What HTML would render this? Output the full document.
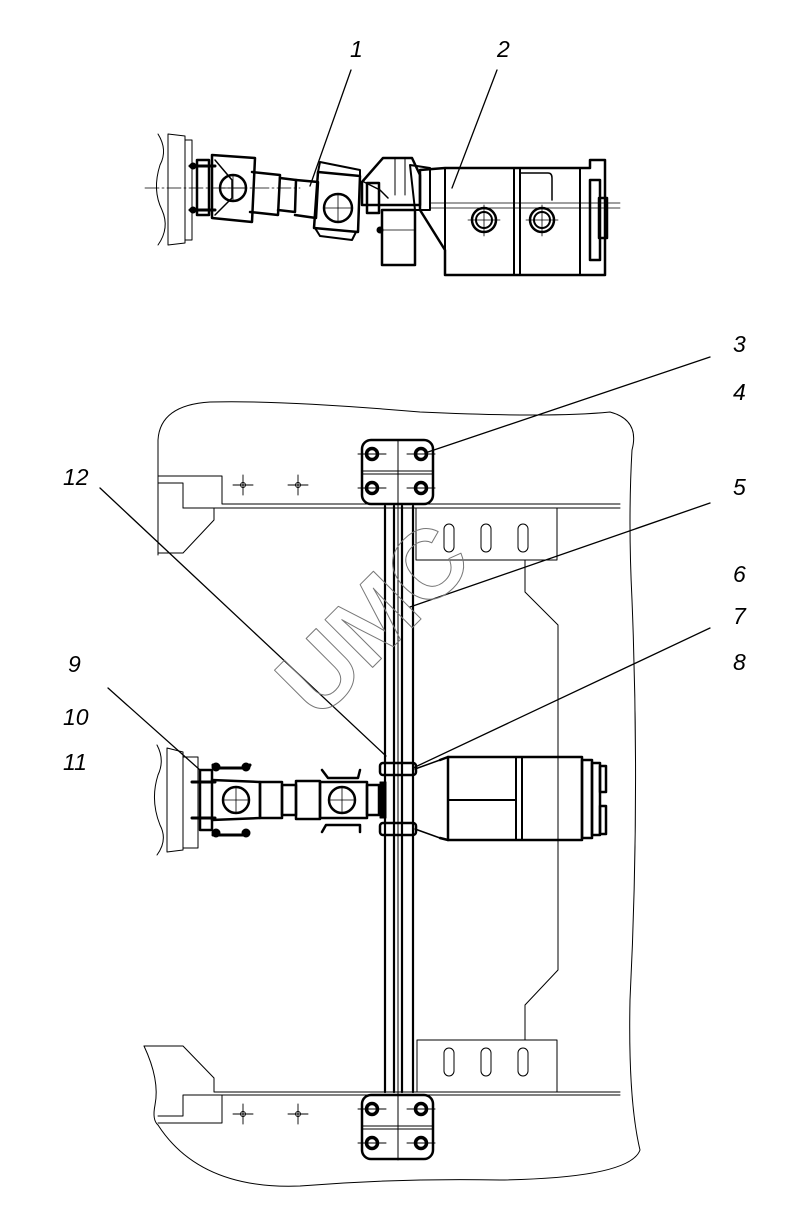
<!DOCTYPE html>
<html><head><meta charset="utf-8"><style>
html,body{margin:0;padding:0;background:#fff;}
svg{display:block;}
text.l{font-family:"Liberation Sans",sans-serif;font-style:italic;font-size:23px;fill:#000;}
</style></head><body>
<svg width="791" height="1229" viewBox="0 0 791 1229" xmlns="http://www.w3.org/2000/svg">
<g fill="none" stroke="#000" stroke-linecap="round" stroke-linejoin="round">

<!-- ===== TOP VIEW ===== -->
<path d="M158,134 Q168,150 160,165 Q152,190 162,210 Q170,228 158,245" stroke-width="1"/>
<path d="M168,134 L168,245 M168,134 L185,136 L185,243 L168,245" stroke-width="1"/>
<path d="M185,140 L192,140 L192,240 L185,240" stroke-width="1"/>
<line x1="145" y1="188" x2="300" y2="188" stroke-width="0.8" stroke-dasharray="14,3,2,3"/>
<rect x="197" y="160" width="12" height="55" stroke-width="2.5"/>
<circle cx="193" cy="166" r="3" fill="#000"/><circle cx="193" cy="210" r="3" fill="#000"/>
<line x1="190" y1="166" x2="215" y2="166" stroke-width="3"/>
<line x1="190" y1="210" x2="215" y2="210" stroke-width="3"/>
<path d="M212,155 L255,158 L252,222 L212,218 Z" stroke-width="2.5"/>
<path d="M215,160 L232,180 L232,198 L215,215" stroke-width="1.5"/>
<circle cx="233" cy="188" r="13" stroke-width="2.5"/>
<line x1="220" y1="188" x2="246" y2="188" stroke-width="0.8"/><line x1="233" y1="175" x2="233" y2="201" stroke-width="0.8"/>
<path d="M252,172 L280,175 L278,215 L250,212" stroke-width="2.5"/>
<path d="M280,178 L296,180 L295,212 L278,210" stroke-width="2.5"/>
<path d="M296,180 L318,182 L316,218 L295,215" stroke-width="2.5"/>
<path d="M318,172 L360,176 L358,232 L314,228 Z" stroke-width="2.5"/>
<path d="M318,172 L320,162 L360,170 L360,176" stroke-width="2"/>
<path d="M315,228 L320,236 L352,240 L356,232" stroke-width="2"/>
<circle cx="338" cy="208" r="14" stroke-width="2.5"/>
<line x1="324" y1="208" x2="352" y2="208" stroke-width="0.8"/><line x1="338" y1="194" x2="338" y2="222" stroke-width="0.8"/>
<path d="M362,182 L383,158 L412,158 L420,175 L420,205 L362,205 Z" stroke-width="2.5"/>
<line x1="395" y1="158" x2="395" y2="195" stroke-width="1"/><line x1="405" y1="158" x2="405" y2="195" stroke-width="1"/>
<path d="M364,182 L380,190 L388,198" stroke-width="1.5"/>
<rect x="367" y="183" width="12" height="30" stroke-width="2.5"/>
<rect x="382" y="210" width="33" height="55" stroke-width="2.5"/>
<line x1="380" y1="230" x2="414" y2="230" stroke-width="0.8"/>
<circle cx="380" cy="230" r="3" fill="#000"/>
<path d="M420,170 L420,210 L445,250 L445,275 L605,275 L605,160 L590,160 L590,168 L445,168 Z" stroke-width="2.5"/>
<path d="M410,165 L430,168 L430,210 L415,210 Z" stroke-width="2"/>
<rect x="514" y="168" width="6" height="107" stroke-width="2"/>
<line x1="445" y1="168" x2="445" y2="275" stroke-width="2"/>
<path d="M520,173 L548,173 Q552,173 552,178 L552,200" stroke-width="1.5"/>
<line x1="580" y1="168" x2="580" y2="275" stroke-width="2"/>
<rect x="590" y="180" width="10" height="80" stroke-width="2.5"/>
<rect x="599" y="198" width="8" height="40" stroke-width="2.5"/>
<line x1="430" y1="203" x2="620" y2="203" stroke-width="0.8"/>
<line x1="430" y1="208" x2="620" y2="208" stroke-width="0.8"/>
<circle cx="484" cy="220" r="12" stroke-width="2.5"/><circle cx="484" cy="220" r="8" stroke-width="2"/>
<circle cx="542" cy="220" r="12" stroke-width="2.5"/><circle cx="542" cy="220" r="8" stroke-width="2"/>
<line x1="468" y1="220" x2="500" y2="220" stroke-width="0.8"/><line x1="484" y1="205" x2="484" y2="236" stroke-width="0.8"/>
<line x1="526" y1="220" x2="558" y2="220" stroke-width="0.8"/><line x1="542" y1="205" x2="542" y2="236" stroke-width="0.8"/>

<line x1="351" y1="70" x2="310" y2="186" stroke-width="1.3"/>
<line x1="497" y1="70" x2="452" y2="188" stroke-width="1.3"/>

<!-- ===== FRAME ===== -->
<path d="M158,555 L158,440 Q160,405 210,402 Q280,400 420,412 Q550,418 610,412 Q640,420 632,450 Q628,520 632,600 Q640,800 630,1000 Q628,1100 640,1150 Q630,1178 500,1180 Q400,1178 300,1186 Q200,1190 158,1125" stroke-width="1"/>
<path d="M144,1046 Q160,1080 155,1105 Q152,1120 158,1125" stroke-width="1"/>
<path d="M158,483 L183,483 L183,508 L214,508 L214,520 L183,553 L158,553" stroke-width="1"/>
<path d="M158,476 L222,476 L222,504 L620,504" stroke-width="1"/>
<line x1="183" y1="508" x2="620" y2="508" stroke-width="1"/>
<g stroke-width="0.9"><line x1="233" y1="485" x2="253" y2="485"/><line x1="243" y1="475" x2="243" y2="495"/><circle cx="243" cy="485" r="2.5"/>
<line x1="288" y1="485" x2="308" y2="485"/><line x1="298" y1="475" x2="298" y2="495"/><circle cx="298" cy="485" r="2.5"/>
<line x1="233" y1="1114" x2="253" y2="1114"/><line x1="243" y1="1104" x2="243" y2="1124"/><circle cx="243" cy="1114" r="2.5"/>
<line x1="288" y1="1114" x2="308" y2="1114"/><line x1="298" y1="1104" x2="298" y2="1124"/><circle cx="298" cy="1114" r="2.5"/></g>
<path d="M144,1046 L183,1046 L214,1078 L214,1092 L620,1092" stroke-width="1"/>
<path d="M158,1116 L183,1116 L183,1095 L620,1095" stroke-width="1"/>
<path d="M158,1123 L222,1123 L222,1095" stroke-width="1"/>
<rect x="416" y="508" width="141" height="52" stroke-width="1"/>
<rect x="417" y="1040" width="140" height="52" stroke-width="1"/>
<g stroke-width="1"><rect x="444" y="524" width="10" height="28" rx="5"/><rect x="481" y="524" width="10" height="28" rx="5"/><rect x="518" y="524" width="10" height="28" rx="5"/>
<rect x="444" y="1048" width="10" height="28" rx="5"/><rect x="481" y="1048" width="10" height="28" rx="5"/><rect x="518" y="1048" width="10" height="28" rx="5"/></g>
<path d="M525,560 L525,592 L558,625 L558,970 L525,1005 L525,1040" stroke-width="1"/>

<g stroke-width="2.2"><line x1="385" y1="506" x2="385" y2="1092"/><line x1="394" y1="506" x2="394" y2="1092"/>
<line x1="402" y1="506" x2="402" y2="1092"/><line x1="413" y1="506" x2="413" y2="1092"/></g>
<line x1="398" y1="440" x2="398" y2="1160" stroke-width="1"/>
<g stroke-width="2.5">
<rect x="362" y="440" width="71" height="64" rx="9"/>
<rect x="362" y="1095" width="71" height="64" rx="9"/>
</g>
<g stroke-width="3.5">
<circle cx="372" cy="454" r="5.5"/><circle cx="421" cy="454" r="5.5"/><circle cx="372" cy="488" r="5.5"/><circle cx="421" cy="488" r="5.5"/>
<circle cx="372" cy="1109" r="5.5"/><circle cx="421" cy="1109" r="5.5"/><circle cx="372" cy="1143" r="5.5"/><circle cx="421" cy="1143" r="5.5"/>
</g>
<g stroke-width="1"><line x1="362" y1="471" x2="433" y2="471"/><line x1="362" y1="474" x2="433" y2="474"/>
<line x1="362" y1="1126" x2="433" y2="1126"/><line x1="362" y1="1129" x2="433" y2="1129"/>
<line x1="358" y1="454" x2="386" y2="454"/><line x1="407" y1="454" x2="435" y2="454"/><line x1="358" y1="488" x2="386" y2="488"/><line x1="407" y1="488" x2="435" y2="488"/>
<line x1="358" y1="1109" x2="386" y2="1109"/><line x1="407" y1="1109" x2="435" y2="1109"/><line x1="358" y1="1143" x2="386" y2="1143"/><line x1="407" y1="1143" x2="435" y2="1143"/></g>

<!-- ===== MIDDLE ASSEMBLY ===== -->
<path d="M157,745 Q165,760 158,775 Q150,800 160,825 Q168,840 157,855" stroke-width="1"/>
<path d="M167,748 L167,852 M167,748 L183,752 L183,850 L167,852" stroke-width="1"/>
<path d="M183,757 L198,757 L198,848 L183,848" stroke-width="1"/>
<rect x="200" y="770" width="12" height="60" stroke-width="2.5"/>
<line x1="192" y1="782" x2="215" y2="782" stroke-width="3"/><line x1="192" y1="818" x2="215" y2="818" stroke-width="3"/>
<path d="M213,765 L215,768 L248,768 L250,765 M213,835 L248,835" stroke-width="3"/>
<circle cx="216" cy="767" r="4" fill="#000"/><circle cx="246" cy="767" r="4" fill="#000"/>
<circle cx="216" cy="833" r="4" fill="#000"/><circle cx="246" cy="833" r="4" fill="#000"/>
<path d="M212,780 L260,782 L260,818 L212,820" stroke-width="2.5"/>
<circle cx="236" cy="800" r="13" stroke-width="2.5"/>
<line x1="223" y1="800" x2="249" y2="800" stroke-width="0.8"/><line x1="236" y1="787" x2="236" y2="813" stroke-width="0.8"/>
<rect x="260" y="782" width="22" height="36" stroke-width="2.5"/>
<rect x="282" y="785" width="14" height="30" stroke-width="2.5"/>
<rect x="296" y="781" width="24" height="38" stroke-width="2.5"/>
<path d="M320,782 L367,782 L367,818 L320,818 Z" stroke-width="2.5"/>
<path d="M322,770 L328,778 L358,778 L360,770 M322,832 L326,825 L360,825 L360,832" stroke-width="2.5"/>
<circle cx="342" cy="800" r="13" stroke-width="2.5"/>
<line x1="329" y1="800" x2="355" y2="800" stroke-width="0.8"/><line x1="342" y1="787" x2="342" y2="813" stroke-width="0.8"/>
<rect x="367" y="785" width="12" height="30" stroke-width="2.5"/>
<rect x="380" y="782" width="6" height="36" fill="#000" stroke-width="1"/>
<g stroke-width="2.5"><rect x="380" y="763" width="36" height="12" rx="3"/><rect x="380" y="823" width="36" height="12" rx="3"/></g>
<line x1="415" y1="769" x2="440" y2="760" stroke-width="1.5"/>
<line x1="415" y1="829" x2="440" y2="838" stroke-width="1.5"/>
<path d="M440,760 L448,757 L582,757 L582,840 L448,840 L440,838" stroke-width="2.5"/>
<line x1="448" y1="757" x2="448" y2="840" stroke-width="2.5"/>
<rect x="516" y="757" width="6" height="83" stroke-width="2"/>
<line x1="448" y1="800" x2="516" y2="800" stroke-width="2"/>
<rect x="582" y="760" width="10" height="78" stroke-width="2.5"/>
<rect x="592" y="763" width="8" height="72" stroke-width="2.5"/>
<rect x="600" y="766" width="6" height="26" stroke-width="2.5"/>
<rect x="600" y="806" width="6" height="28" stroke-width="2.5"/>

<g stroke-width="1.3">
<line x1="710" y1="357" x2="425" y2="453"/>
<line x1="710" y1="503" x2="410" y2="607"/>
<line x1="710" y1="628" x2="413" y2="768"/>
<line x1="100" y1="488" x2="386" y2="756"/>
<line x1="108" y1="688" x2="200" y2="770"/>
</g>

<text x="0" y="0" transform="translate(318,722) rotate(-45)" font-family="Liberation Sans,sans-serif" font-weight="bold" font-size="98" fill="none" stroke="#777" stroke-width="1">UMC</text>
</g>

<text class="l" x="350" y="57">1</text>
<text class="l" x="497" y="57">2</text>
<text class="l" x="733" y="352">3</text>
<text class="l" x="733" y="400">4</text>
<text class="l" x="733" y="495">5</text>
<text class="l" x="733" y="582">6</text>
<text class="l" x="733" y="624">7</text>
<text class="l" x="733" y="670">8</text>
<text class="l" x="63" y="485">12</text>
<text class="l" x="68" y="672">9</text>
<text class="l" x="63" y="725">10</text>
<text class="l" x="63" y="770">11</text>
</svg>
</body></html>
